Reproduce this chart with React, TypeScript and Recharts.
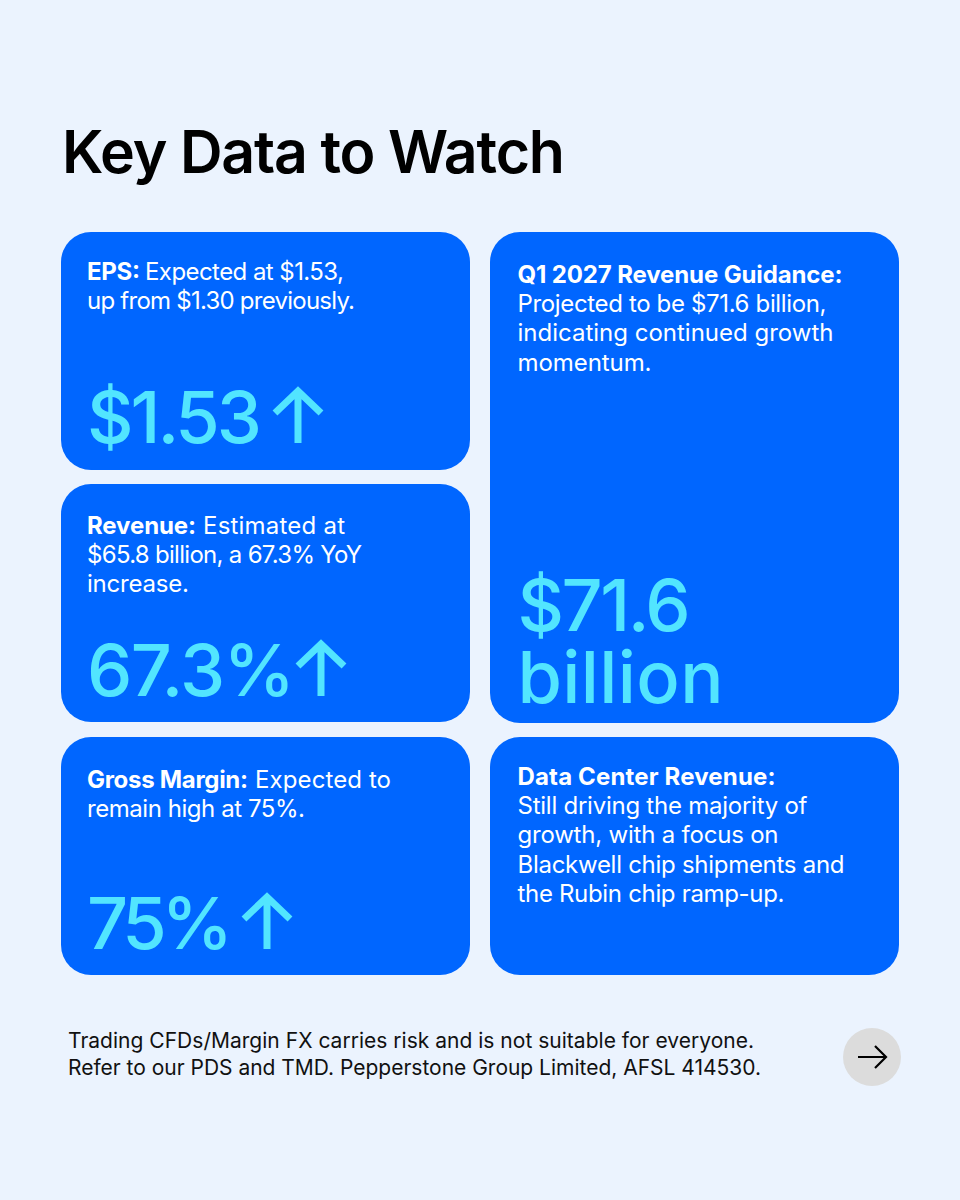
import { ReferenceArea, Scatter, ScatterChart, XAxis, YAxis } from "recharts";

const title = "Key Data to Watch";

const footerLines = [
  "Trading CFDs/Margin FX carries risk and is not suitable for everyone.",
  "Refer to our PDS and TMD. Pepperstone Group Limited, AFSL 414530.",
];

const headings = ["EPS:", "Revenue:", "Gross Margin:", "Q1 2027 Revenue Guidance:", "Data Center Revenue:"];

const leads = ["Expected at $1.53,", "Estimated at", "Expected to", "", ""];

const bodies = [
  ["up from $1.30 previously."],
  ["$65.8 billion, a 67.3% YoY", "increase."],
  ["remain high at 75%."],
  ["Projected to be $71.6 billion,", "indicating continued growth", "momentum."],
  ["Still driving the majority of", "growth, with a focus on", "Blackwell chip shipments and", "the Rubin chip ramp-up."],
];

const stats = [["$1.53"], ["67.3%"], ["75%"], ["$71.6", "billion"], []];

// layout of the canvas, in pixels
const cardX = [61, 61, 61, 490, 490];
const cardY = [232, 484, 737, 232, 737];
const cardH = [238, 238, 238, 491, 238];
const textBase = [280, 534, 788, 283, 785];
const statBase = [[443], [696], [949], [631, 703], []];
const arrowX = [298, 321, 267, 0, 0];

// widths of the text lines as measured on the reference
const headW = [53, 109, 161, 325, 258];
const leadX = [145, 203, 255, 0, 0];
const leadW = [199, 142, 136, 0, 0];
const bodyW = [[268], [275, 102], [218], [309, 316, 134], [290, 261, 327, 267]];
const statW = [[175], [208], [146], [173, 206], []];

const cardAnchors = cardX.map((x, i) => ({ x, y: cardY[i], index: i }));

const BLUE = "#0066ff";
const CYAN = "#52e5ff";
const FONT = "Inter, sans-serif";

function Card({ cx, cy, payload }: any) {
  const index = payload.index;
  const tx = cx + (index > 2 ? 27.5 : 26);
  const ax = arrowX[index];
  const ab = statBase[index][0];
  const bodyStyle = { fontFamily: FONT, fontSize: 24, fill: "#ffffff" };
  return (
    <g>
      <rect x={cx} y={cy} width={409} height={cardH[index]} rx={30} ry={30} fill={BLUE} />
      <text x={tx} y={textBase[index]} {...bodyStyle} fontWeight={700} textLength={headW[index]}>
        {headings[index]}
      </text>
      {leads[index] && (
        <text x={leadX[index]} y={textBase[index]} {...bodyStyle} fontWeight={400} textLength={leadW[index]}>
          {leads[index]}
        </text>
      )}
      {bodies[index].map((line, i) => (
        <text
          key={i}
          x={tx}
          y={textBase[index] + (i + 1) * 29.2}
          {...bodyStyle}
          fontWeight={400}
          textLength={bodyW[index][i]}
        >
          {line}
        </text>
      ))}
      {stats[index].map((s, i) => (
        <text
          key={s}
          x={tx}
          y={statBase[index][i]}
          fontFamily={FONT}
          fontSize={72}
          fontWeight={500}
          fill={CYAN}
          textLength={statW[index][i]}
        >
          {s}
        </text>
      ))}
      {ax > 0 && (
        <path
          d={`M${ax} ${ab}V${ab - 52}M${ax - 23} ${ab - 30}L${ax} ${ab - 52}L${ax + 23} ${ab - 30}`}
          fill="none"
          stroke={CYAN}
          strokeWidth={7}
        />
      )}
    </g>
  );
}

function Page({ x, y, width, height }: any) {
  return (
    <g>
      <rect x={x} y={y} width={width} height={height} fill="#ebf3fe" />
      <text x={62} y={173} fontFamily={FONT} fontSize={59} fontWeight={600} textLength={503} fill="#000000">
        {title}
      </text>
      {footerLines.map((line, i) => (
        <text
          key={i}
          x={68}
          y={1048 + i * 27}
          fontFamily={FONT}
          fontSize={21}
          textLength={i === 0 ? 686 : 693}
          fill="#111111"
        >
          {line}
        </text>
      ))}
      <ellipse cx={872} cy={1057} rx={29} ry={29} fill="#dcdcdc" />
      <path d="M858 1057H886M875 1046L886 1057L875 1068" fill="none" stroke="#000000" strokeWidth={2.2} />
    </g>
  );
}

export default function App() {
  return (
    <div style={{ position: "absolute", left: 0, top: 0, width: 960, height: 1200 }}>
      <ScatterChart width={960} height={1200} margin={{ top: 0, right: 0, bottom: 0, left: 0 }}>
        <XAxis type="number" dataKey="x" domain={[0, 960]} hide />
        <YAxis type="number" dataKey="y" domain={[0, 1200]} reversed hide />
        <ReferenceArea x1={0} x2={960} y1={0} y2={1200} shape={(p: any) => <Page {...p} />} />
        <Scatter data={cardAnchors} isAnimationActive={false} shape={(p: any) => <Card {...p} />} />
      </ScatterChart>
    </div>
  );
}
